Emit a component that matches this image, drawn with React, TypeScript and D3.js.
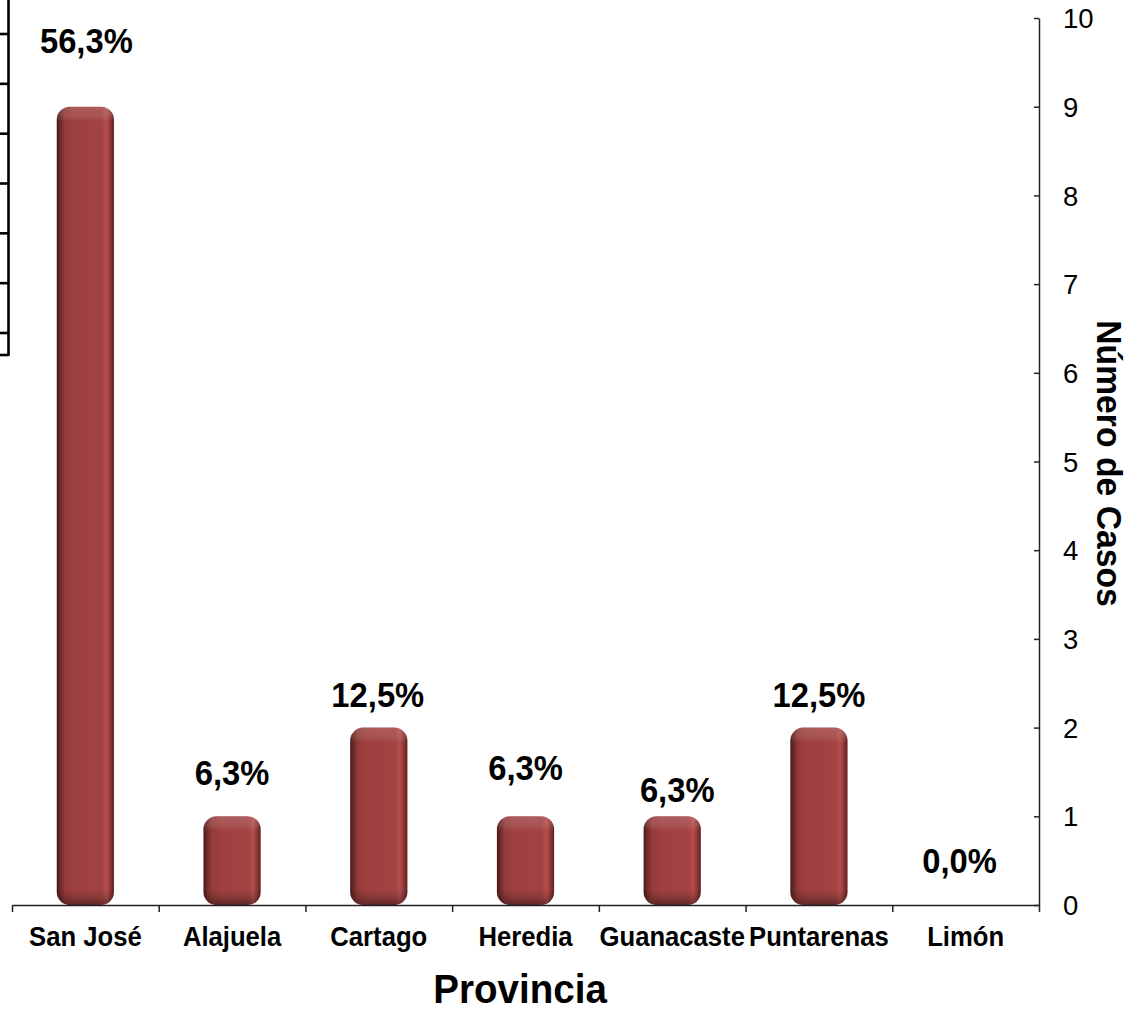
import * as d3 from 'd3'
import React, { useEffect, useRef } from 'react'

// provincias y casos
const provincias = ['San José', 'Alajuela', 'Cartago', 'Heredia', 'Guanacaste', 'Puntarenas', 'Limón']
const casos = [9, 1, 2, 1, 1, 2, 0]
const porcentajes = ['56,3%', '6,3%', '12,5%', '6,3%', '6,3%', '12,5%', '0,0%']
const yTicks = [0, 1, 2, 3, 4, 5, 6, 7, 8, 9, 10]
// trozo de eje recortado a la izquierda
const ghostTicks = [0, 1, 2, 3, 4, 5, 6]

// ajuste manual de etiquetas (como en el original)
const labelGap = [54, 31, 21, 36, 14, 21, 32]
const labelDx = [1, 0, -1, 0, 5, 0, -6]

const W = 1138
const H = 1011
const left = 12
const right = 1039
const top = 18
const bottom = 905
const font = "Arial, 'Liberation Sans', sans-serif"

export default function App() {
  const xAxisRef = useRef<SVGGElement>(null)
  const yAxisRef = useRef<SVGGElement>(null)

  const x = d3.scaleBand().domain(provincias).range([left, right]).padding(0)
  const xEdges = d3.scaleLinear().domain([0, provincias.length]).range([left, right])
  const y = d3.scaleLinear().domain([0, 10]).range([bottom, top])
  const ghost = d3.scaleLinear().domain([0, 6]).range([34, 333])

  const barW = x.bandwidth() * 0.39
  const r = 13

  useEffect(() => {
    if (xAxisRef.current) {
      const g = d3.select(xAxisRef.current)
      g.call(
        d3
          .axisBottom(xEdges)
          .tickValues(d3.range(0, provincias.length + 1))
          .tickFormat(() => '')
          .tickSizeInner(7)
          .tickSizeOuter(0)
      )
      g.selectAll('path, line').attr('stroke', '#222').attr('stroke-width', 1.5)
    }
    if (yAxisRef.current) {
      const g = d3.select(yAxisRef.current)
      g.call(d3.axisRight(y).tickValues(yTicks).tickSizeInner(-5).tickSizeOuter(0).tickPadding(24))
      g.selectAll('path, line').attr('stroke', '#222').attr('stroke-width', 1.5)
      g.selectAll('text')
        .attr('font-size', 27.5)
        .attr('font-family', font)
        .attr('fill', '#000')
        .attr('dy', '0.35em')
    }
  }, [])

  const barPath = (x0: number, y0: number, w: number, h: number) => {
    const rr = Math.min(r, h / 2, w / 2)
    return `M${x0},${y0 + rr}
      a${rr},${rr} 0 0 1 ${rr},${-rr}
      h${w - 2 * rr}
      a${rr},${rr} 0 0 1 ${rr},${rr}
      v${h - 2 * rr}
      a${rr},${rr} 0 0 1 ${-rr},${rr}
      h${-(w - 2 * rr)}
      a${rr},${rr} 0 0 1 ${-rr},${-rr}
      z`
  }

  return (
    <div style={{ position: 'absolute', left: 0, top: 0 }}>
      <svg width={W} height={H} style={{ display: 'block', background: '#fff' }}>
        <defs>
          <linearGradient id="barSide" x1="0" x2="1" y1="0" y2="0">
            <stop offset="0%" stopColor="#451616" />
            <stop offset="5%" stopColor="#6a2626" />
            <stop offset="14%" stopColor="#933a3a" />
            <stop offset="30%" stopColor="#9f4040" />
            <stop offset="78%" stopColor="#a24242" />
            <stop offset="87%" stopColor="#b44d4d" />
            <stop offset="94%" stopColor="#8e3636" />
            <stop offset="100%" stopColor="#5a1e1e" />
          </linearGradient>
          {casos.map((v, i) => {
            const y0 = y(v)
            const h = bottom - y0
            if (h <= 0) return null
            const e = Math.min(15 / h, 0.45)
            return (
              <linearGradient
                key={`bev-${i}`}
                id={`bevel-${i}`}
                gradientUnits="userSpaceOnUse"
                x1="0"
                x2="0"
                y1={y0}
                y2={bottom}
              >
                <stop offset="0" stopColor="#ffffff" stopOpacity={0.14} />
                <stop offset={e * 0.6} stopColor="#ffffff" stopOpacity={0.1} />
                <stop offset={e} stopColor="#ffffff" stopOpacity={0} />
                <stop offset={1 - e} stopColor="#000000" stopOpacity={0} />
                <stop offset={1 - e * 0.4} stopColor="#000000" stopOpacity={0.2} />
                <stop offset="1" stopColor="#000000" stopOpacity={0.4} />
              </linearGradient>
            )
          })}
        </defs>

        {/* eje recortado a la izquierda */}
        <g stroke="#000" strokeWidth={2.6}>
          <line x1={8.5} x2={8.5} y1={0} y2={356} />
          {ghostTicks.map((t) => (
            <line key={`gt-${t}`} x1={0} x2={8.5} y1={ghost(t)} y2={ghost(t)} />
          ))}
          <line x1={0} x2={8.5} y1={355} y2={355} />
        </g>

        {/* barras */}
        {provincias.map((p, i) => {
          const v = casos[i]
          const y0 = y(v)
          const h = bottom - y0
          const cx = (x(p) || 0) + x.bandwidth() / 2
          if (h <= 0) return null
          const d = barPath(cx - barW / 2, y0, barW, h)
          return (
            <g key={`bar-${p}`}>
              <path d={d} fill="url(#barSide)" />
              <path d={d} fill={`url(#bevel-${i})`} />
            </g>
          )
        })}

        <g ref={xAxisRef} transform={`translate(0, ${bottom})`} />
        <g ref={yAxisRef} transform={`translate(${right}, 0)`} />

        {/* etiquetas de porcentaje */}
        {provincias.map((p, i) => (
          <text
            key={`pct-${p}`}
            transform={`translate(${(x(p) || 0) + x.bandwidth() / 2 + labelDx[i]}, ${
              y(casos[i]) - labelGap[i]
            }) scale(0.95, 1)`}
            textAnchor="middle"
            fontFamily={font}
            fontWeight="bold"
            fontSize={34.5}
            fill="#000"
          >
            {porcentajes[i]}
          </text>
        ))}

        {/* categorías */}
        {provincias.map((p) => (
          <text
            key={`cat-${p}`}
            transform={`translate(${(x(p) || 0) + x.bandwidth() / 2}, 946) scale(0.9, 1)`}
            textAnchor="middle"
            fontFamily={font}
            fontWeight="bold"
            fontSize={28.5}
            fill="#000"
          >
            {p}
          </text>
        ))}

        <text
          transform="translate(520, 1003) scale(0.93, 1)"
          textAnchor="middle"
          fontFamily={font}
          fontWeight="bold"
          fontSize={41.5}
          fill="#000"
        >
          Provincia
        </text>

        <text
          transform={`translate(1097, ${(top + bottom) / 2 + 2}) rotate(90) scale(0.95, 1)`}
          textAnchor="middle"
          fontFamily={font}
          fontWeight="bold"
          fontSize={35.5}
          fill="#000"
        >
          Número de Casos
        </text>
      </svg>
    </div>
  )
}
